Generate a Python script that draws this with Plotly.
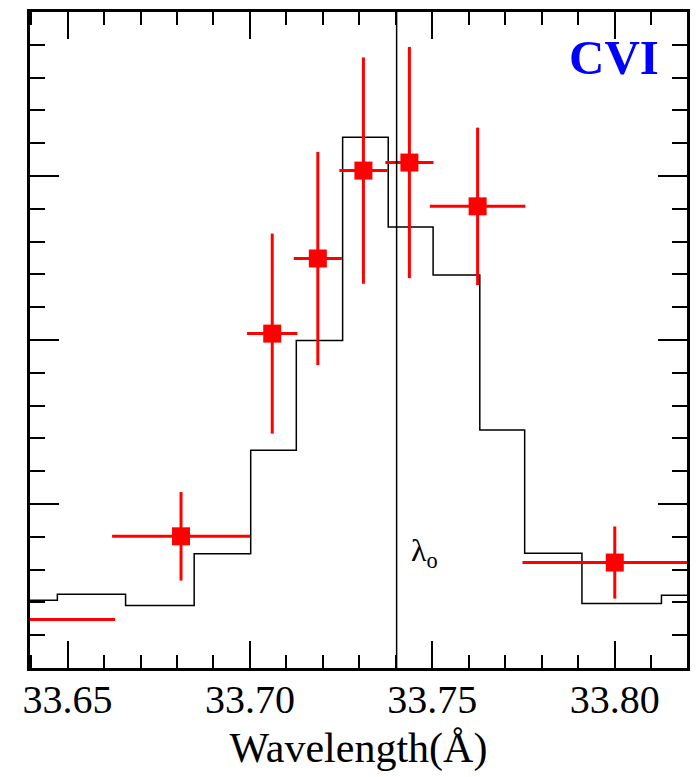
import plotly.graph_objects as go

# Model spectrum (step histogram): bin edges and model counts per bin
bin_edges = [33.628, 33.6472, 33.6659, 33.6847, 33.7002, 33.7127, 33.7254,
             33.7379, 33.7502, 33.7630, 33.7753, 33.7910, 33.8128, 33.832]
model_counts = [4.13, 4.49, 3.81, 6.96, 13.27, 19.97, 32.37,
                26.89, 23.96, 14.51, 7.00, 3.93, 4.43]

# Observed data points with errors
obs_wave = [33.633, 33.6811, 33.7061, 33.7186, 33.7311, 33.7437, 33.7624, 33.8000]
obs_wave_err = [0.030, 0.0189, 0.0069, 0.0066, 0.0066, 0.0066, 0.0131, 0.0253]
obs_counts = [2.96, 8.03, 20.39, 24.97, 30.33, 30.82, 28.15, 6.43]
obs_counts_err = [2.0, 2.7, 6.1, 6.5, 6.9, 7.05, 4.8, 2.2]

# Rest wavelength of the line
lambda0 = 33.7402

x_range = [33.6397, 33.8198]
y_range = [0, 40]

serif = "Liberation Serif"

fig = go.Figure()

# step histogram: repeat the last value so the final bin is closed
fig.add_trace(go.Scatter(
    x=bin_edges,
    y=model_counts + [model_counts[-1]],
    mode="lines",
    line=dict(shape="hv", color="black", width=1.5),
    hoverinfo="skip",
    showlegend=False,
))

fig.add_trace(go.Scatter(
    x=obs_wave,
    y=obs_counts,
    mode="markers",
    marker=dict(symbol="square", size=18, color="#ff0000", line=dict(width=0)),
    error_x=dict(type="data", array=obs_wave_err, color="#ff0000", thickness=3, width=0),
    error_y=dict(type="data", array=obs_counts_err, color="#ff0000", thickness=3, width=0),
    showlegend=False,
))

fig.add_vline(x=lambda0, line=dict(color="black", width=1.5))

fig.add_annotation(
    x=lambda0 + 0.0033, y=5.7, xref="x", yref="y",
    text="λ<sub>o</sub>", showarrow=False,
    xanchor="left", yanchor="bottom",
    font=dict(family=serif, size=32, color="black"),
)

fig.add_annotation(
    x=33.8128, y=37.25, xref="x", yref="y",
    text="<b>CVI</b>", showarrow=False,
    xanchor="right", yanchor="middle",
    font=dict(family=serif, size=49, color="#0000ff"),
)

fig.update_xaxes(
    range=x_range,
    tick0=33.65, dtick=0.05, tickformat=".2f",
    ticks="inside", ticklen=27, tickwidth=1.5, tickcolor="black",
    minor=dict(dtick=0.01, tick0=33.65, ticks="inside", ticklen=13,
               tickwidth=1.5, tickcolor="black"),
    showline=True, linecolor="black", linewidth=2.5, mirror="allticks",
    showgrid=False, zeroline=False,
    tickfont=dict(family=serif, size=40, color="black"),
    ticklabelstandoff=-6,
    title=dict(text="Wavelength(Å)", font=dict(family=serif, size=42, color="black"),
               standoff=12),
)

fig.update_yaxes(
    range=y_range,
    tick0=0, dtick=10,
    ticks="inside", ticklen=29, tickwidth=1.5, tickcolor="black",
    minor=dict(dtick=2, ticks="inside", ticklen=15, tickwidth=1.5, tickcolor="black"),
    showline=True, linecolor="black", linewidth=2.5, mirror="allticks",
    showgrid=False, zeroline=False,
    showticklabels=False,
)

fig.update_layout(
    width=699, height=777,
    margin=dict(l=29.5, r=9.3, t=9, b=109),
    plot_bgcolor="white", paper_bgcolor="white",
    font=dict(family=serif, color="black"),
)

fig.write_html("out.html")
